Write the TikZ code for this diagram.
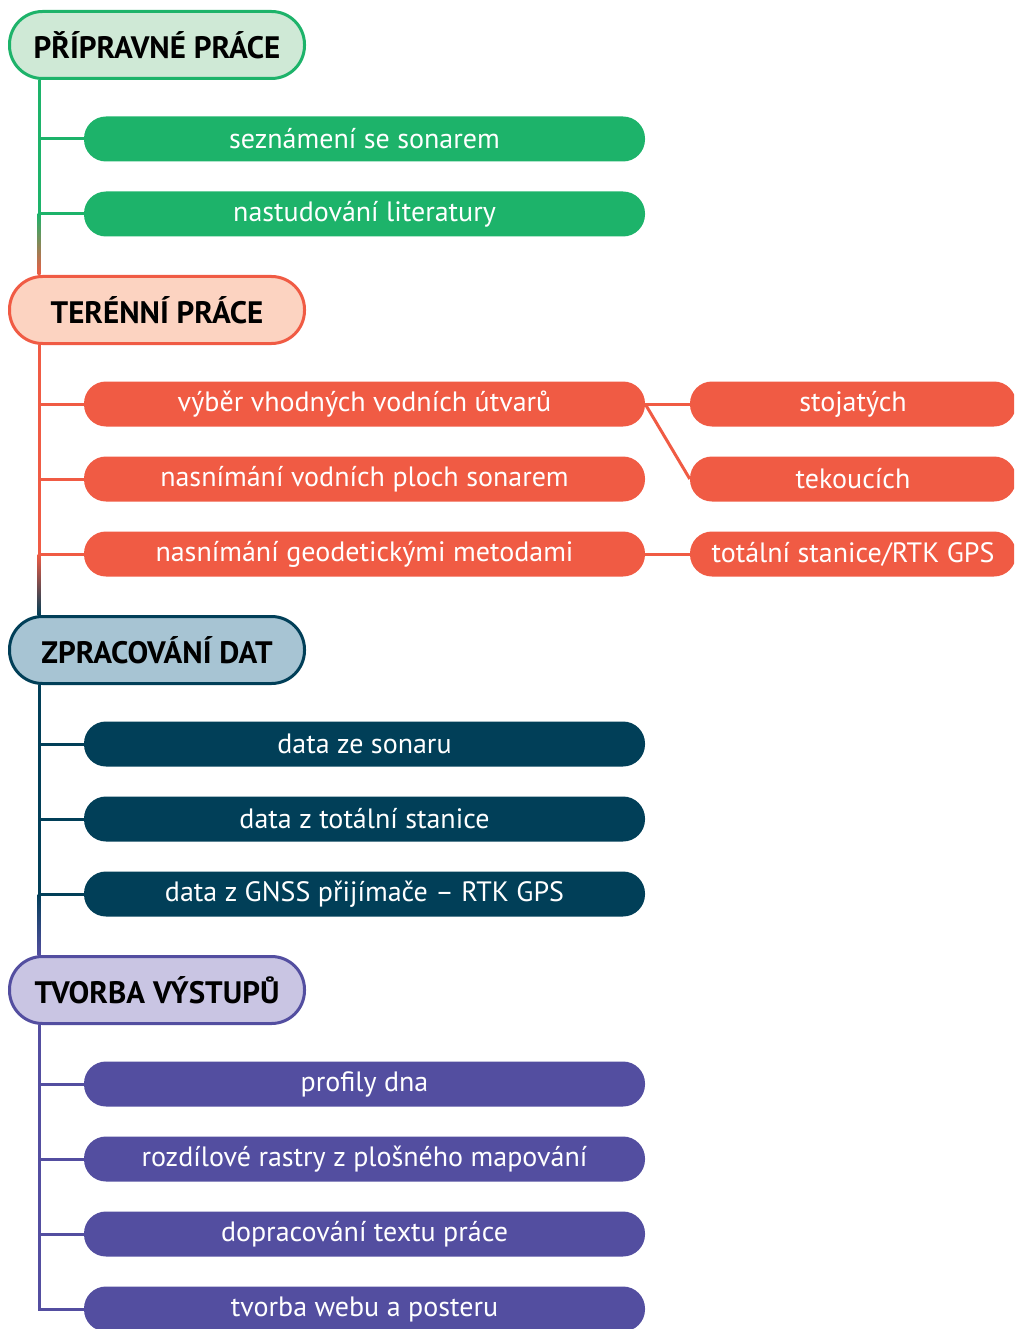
\documentclass[tikz,border=0pt]{standalone}
\usepackage{fontspec}
\setmainfont{PT Sans}
\usetikzlibrary{calc, positioning}

\definecolor{prepGreen}{RGB}{29,179,106}
\definecolor{prepLight}{RGB}{207,233,214}
\definecolor{fieldRed}{RGB}{240,91,68}
\definecolor{fieldLight}{RGB}{252,211,193}
\definecolor{procTeal}{RGB}{1,63,88}
\definecolor{procLight}{RGB}{167,196,211}
\definecolor{outPurple}{RGB}{83,78,160}
\definecolor{outLight}{RGB}{201,197,227}

\begin{document}
\begin{tikzpicture}[x=1pt, y=-1pt,
  phase/.style 2 args={draw=#1, fill=#2, line width=3pt, rounded corners=33pt,
    minimum width=295pt, minimum height=67pt, inner sep=0pt,
    font=\fontsize{31}{34}\selectfont\bfseries, text=black},
  task/.style={fill=#1, rounded corners=22pt, minimum width=561pt,
    minimum height=45pt, inner sep=0pt, text=white,
    font=\fontsize{28}{32}\selectfont},
  detail/.style={task=#1, minimum width=326pt},
  stem/.style={draw=#1, line width=3pt}]

\useasboundingbox (0,0) rectangle (1014,1329);
\clip (0,0) rectangle (1014,1329);
\coordinate (trunk) at (39,0);

% Pripravne prace
\node[phase={prepGreen}{prepLight}] (prip) at (157,45) {PŘÍPRAVNÉ PRÁCE};
\node[task=prepGreen] (p1) at (364.5,139) {seznámení se sonarem};
\node[task=prepGreen] (p2) at (364.5,214) {nastudování literatury};

% Terenni prace
\node[phase={fieldRed}{fieldLight}] (teren) at (157,310) {TERÉNNÍ PRÁCE};
\node[task=fieldRed] (t1) at (364.5,404) {výběr vhodných vodních útvarů};
\node[task=fieldRed] (t2) at (364.5,479) {nasnímání vodních ploch sonarem};
\node[task=fieldRed] (t3) at (364.5,554) {nasnímání geodetickými metodami};
\node[detail=fieldRed] (stoj) at (853,404) {stojatých};
\node[detail=fieldRed] (tek) at (853,479) {tekoucích};
\node[detail=fieldRed] (gps) at (853,554) {totální stanice/RTK GPS};

% Zpracovani dat
\node[phase={procTeal}{procLight}] (zprac) at (157,650) {ZPRACOVÁNÍ DAT};
\node[task=procTeal] (z1) at (364.5,744) {data ze sonaru};
\node[task=procTeal] (z2) at (364.5,819) {data z totální stanice};
\node[task=procTeal] (z3) at (364.5,894) {data z GNSS přijímače – RTK GPS};

% Tvorba vystupu
\node[phase={outPurple}{outLight}] (tvorba) at (157,990) {TVORBA VÝSTUPŮ};
\node[task=outPurple] (v1) at (364.5,1084) {profily dna};
\node[task=outPurple] (v2) at (364.5,1159) {rozdílové rastry z plošného mapování};
\node[task=outPurple] (v3) at (364.5,1234) {dopracování textu práce};
\node[task=outPurple] (v4) at (364.5,1309) {tvorba webu a posteru};

% Trunks and branches
\draw[stem=prepGreen] (prip.south -| trunk) -- (p2.west -| trunk);
\foreach \n in {p1,p2} \draw[stem=prepGreen] (\n.west -| trunk) -- (\n.west);
\shade[top color=prepGreen, bottom color=fieldRed]
  ($(p2.west -| trunk)+(-1.5,0)$) rectangle ($(teren.north -| trunk)+(1.5,0)$);

\draw[stem=fieldRed] (teren.south -| trunk) -- (t3.west -| trunk);
\foreach \n in {t1,t2,t3} \draw[stem=fieldRed] (\n.west -| trunk) -- (\n.west);
\shade[top color=fieldRed, bottom color=procTeal]
  ($(t3.west -| trunk)+(-1.5,0)$) rectangle ($(zprac.north -| trunk)+(1.5,0)$);
\draw[stem=fieldRed] (t1.east) -- (stoj.west);
\draw[stem=fieldRed] (t1.east) -- (tek.west);
\draw[stem=fieldRed] (t3.east) -- (gps.west);

\draw[stem=procTeal] (zprac.south -| trunk) -- (z3.west -| trunk);
\foreach \n in {z1,z2,z3} \draw[stem=procTeal] (\n.west -| trunk) -- (\n.west);
\shade[top color=procTeal, bottom color=outPurple]
  ($(z3.west -| trunk)+(-1.5,0)$) rectangle ($(tvorba.north -| trunk)+(1.5,0)$);

\draw[stem=outPurple] (tvorba.south -| trunk) |- (v4.west);
\foreach \n in {v1,v2,v3} \draw[stem=outPurple] (\n.west -| trunk) -- (\n.west);

\end{tikzpicture}
\end{document}
